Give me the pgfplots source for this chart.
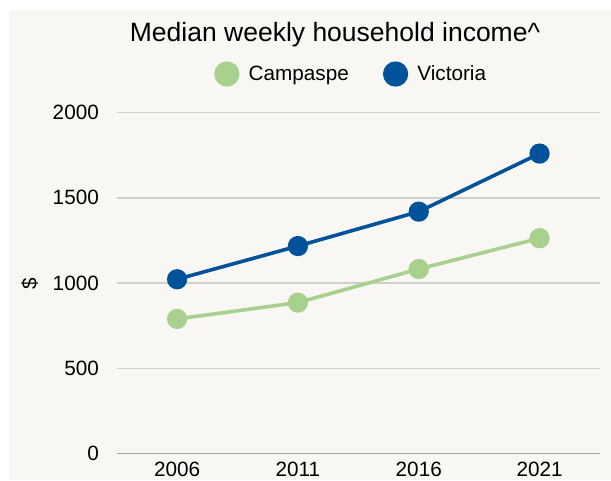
\documentclass[border=0pt]{standalone}
\usepackage{pgfplots}
\pgfplotsset{compat=1.18}
\usepackage{fontspec}
\setmainfont{Liberation Sans}
\definecolor{bg}{RGB}{249,247,243}
\definecolor{vic}{RGB}{0,83,155}
\definecolor{camp}{RGB}{168,209,141}
\definecolor{gridc}{RGB}{210,207,202}
\definecolor{zeroc}{RGB}{165,163,160}
\begin{document}
\begin{tikzpicture}[x=1pt,y=1pt]
\useasboundingbox (0,0) rectangle (611,480);
\fill[bg] (9,0) rectangle (611,470);
\node[font=\fontsize{26.5}{30}\selectfont, anchor=base] at (335,438) {Median weekly household income\textasciicircum};
\node[font=\fontsize{20.7}{24}\selectfont, rotate=90, anchor=center] at (29.7,196.5) {\$};
\begin{axis}[
  at={(116.7pt,26.7pt)}, anchor=south west,
  scale only axis, width=483.3pt, height=340.6pt,
  xmin=2003.5, xmax=2023.5, ymin=0, ymax=2000,
  xtick={2006,2011,2016,2021}, ytick={0,500,1000,1500,2000},
  axis lines=left, axis line style={-},
  y axis line style={draw=none},
  x axis line style={draw=zeroc, line width=1.4pt},
  ymajorgrids, grid style={gridc, line width=1.3pt},
  major tick length=0pt,
  tick label style={font=\fontsize{20.7}{24}\selectfont},
  /pgf/number format/assume math mode=true,
  /pgf/number format/1000 sep={},
  xticklabel style={anchor=north, inner sep=0pt, yshift=-8.8pt},
  yticklabel style={anchor=east, inner sep=0pt, xshift=-17.7pt},
  legend columns=2,
  legend style={at={(axis description cs:0.487,1.1136)}, anchor=center, draw=none, fill=none,
    font=\fontsize{20.7}{24}\selectfont,
    /tikz/every odd column/.append style={column sep=9pt},
    /tikz/every even column/.append style={column sep=34pt}},
  legend image code/.code={\draw[#1, mark size=10.8pt] plot coordinates {(0pt,0pt)};},
  clip=false,
]
\addplot[camp, line width=3.6pt, mark=*, mark size=8.3pt] coordinates {(2006,789) (2011,885) (2016,1082) (2021,1263)};
\addlegendentry{Campaspe}
\addplot[vic, line width=3.6pt, mark=*, mark size=8.3pt] coordinates {(2006,1022) (2011,1217) (2016,1419) (2021,1760)};
\addlegendentry{Victoria}
\end{axis}
\end{tikzpicture}
\end{document}
